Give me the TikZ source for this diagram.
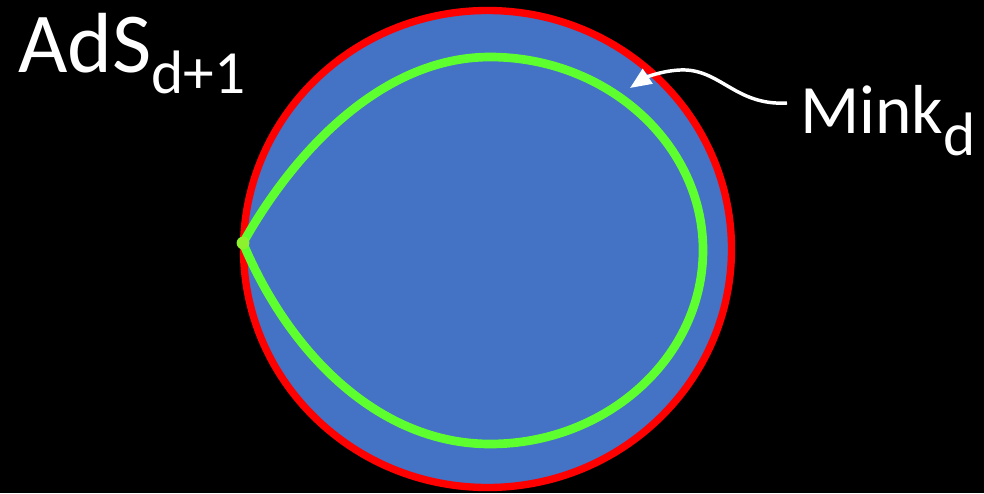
\documentclass[tikz,border=0pt]{standalone}
\usepackage{fontspec}
\setmainfont{Carlito}
\usepackage{tikz}
\usetikzlibrary{arrows.meta}
\definecolor{bulk}{HTML}{4472C4}
\definecolor{rim}{HTML}{FF0000}
\definecolor{slice}{HTML}{5EFF2E}
\definecolor{tipdot}{HTML}{8CF22E}

\begin{document}
\begin{tikzpicture}[x=0.75pt, y=-0.75pt,
    label/.style={text=white, inner sep=0pt, anchor=base west}]
    \fill[black] (0,0) rectangle (984,493);
    \useasboundingbox (0,0) rectangle (984,493);
    % AdS disk
    \draw[rim, line width=5.5pt, fill=bulk] (487.5,249) ellipse [x radius=244, y radius=238.5];
    % boundary slice
    \coordinate (cusp) at (243,243);
    \draw[slice, line width=6.5pt]
      (cusp) .. controls (292,155) and (380,57) .. (490,57)
      .. controls (607,57) and (703,144) .. (703,250)
      .. controls (703,357) and (607,444) .. (490,444)
      .. controls (380,444) and (290,355) .. (cusp);
    \fill[tipdot] (cusp) circle (4.8pt);
    % labels
    \node[label, font=\fontsize{64}{64}\selectfont] (ads) at (18,72)
      {AdS\raisebox{-16pt}{\fontsize{46}{46}\selectfont d+1}};
    \node[label, font=\fontsize{52}{52}\selectfont] (mink) at (800,133)
      {Mink\raisebox{-17pt}{\fontsize{46}{46}\selectfont d}};
    \coordinate (tail) at (787,103);
    \coordinate (tip) at (630,88);
    \draw[white, line width=2.6pt, -{Triangle[length=16pt, width=13pt]}]
      (tail) .. controls (735,106) and (720,68) .. (680,70)
      .. controls (660,71) and (645,78) .. (tip);
\end{tikzpicture}
\end{document}
